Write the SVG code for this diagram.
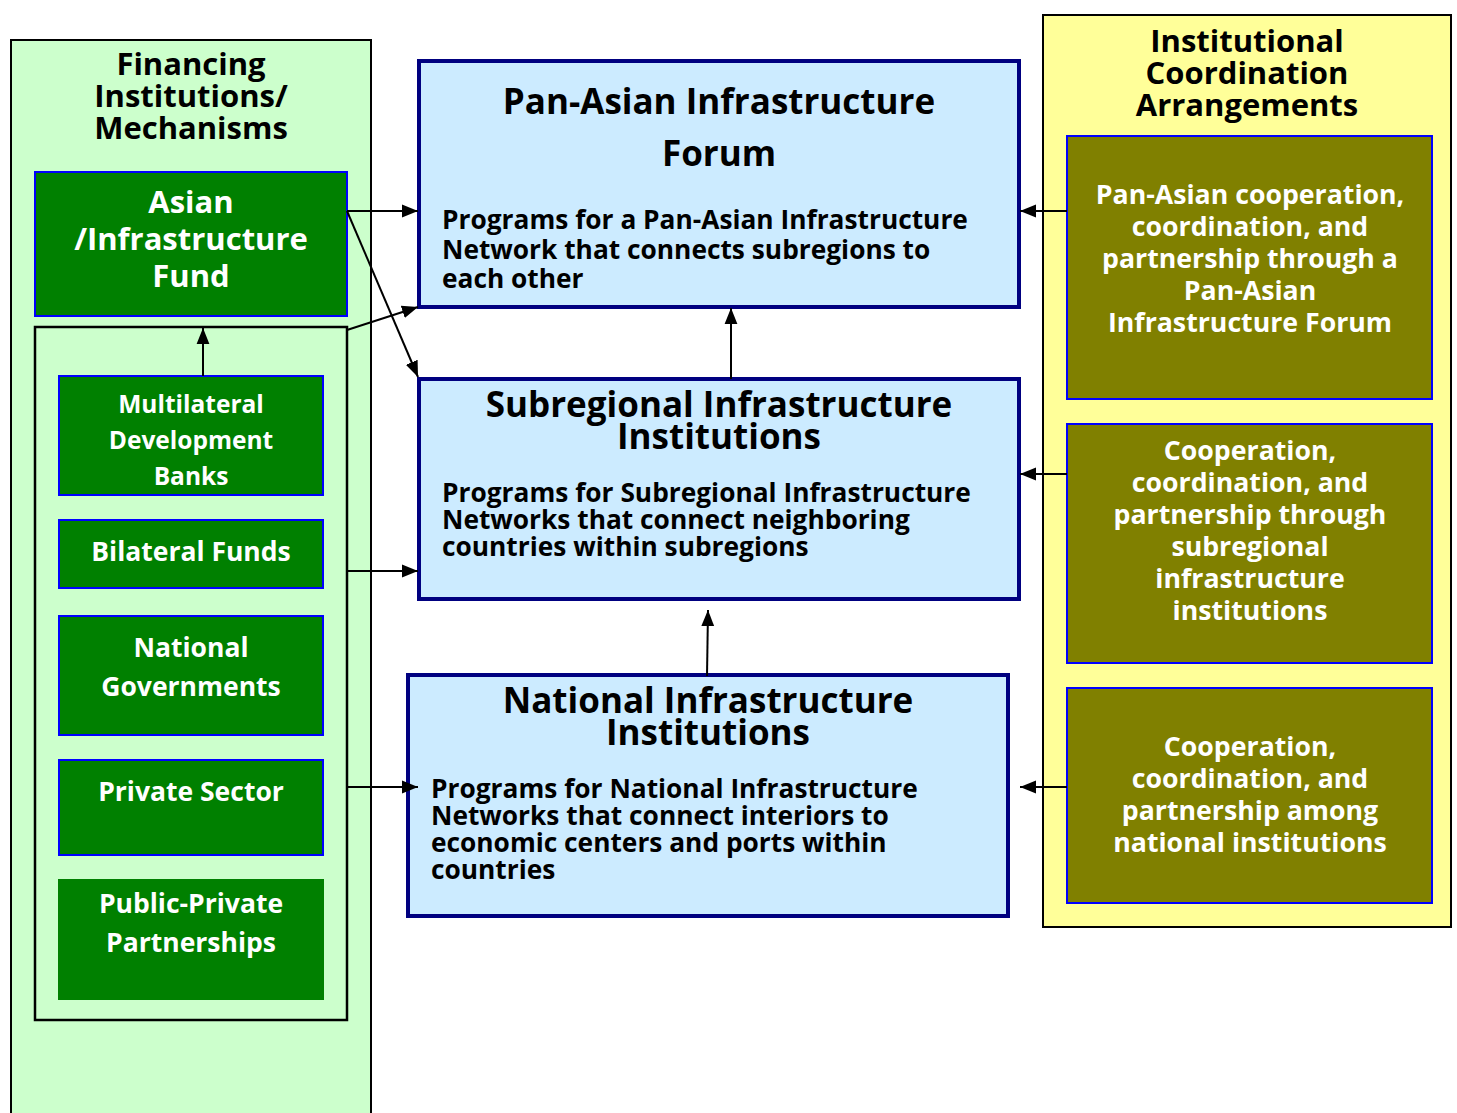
<svg xmlns="http://www.w3.org/2000/svg" width="1457" height="1113" viewBox="0 0 1457 1113">
<defs>
<marker id="ah" viewBox="0 0 10 10" refX="10" refY="5" markerWidth="8" markerHeight="8" markerUnits="strokeWidth" orient="auto">
<path d="M0,1 L10,5 L0,9 z" fill="#000"/>
</marker>
<style>
text{font-family:"Open Sans","Noto Sans","DejaVu Sans",sans-serif;font-weight:bold}
.ttl{font-size:31px;fill:#000;text-anchor:middle}
.g{fill:#008000;stroke:#0000FF;stroke-width:2}
.gt{font-size:26.5px;fill:#fff;text-anchor:middle}
.gm{font-size:24.5px;fill:#fff;text-anchor:middle}
.gb{font-size:31px;fill:#fff;text-anchor:middle}
.b{fill:#CCEBFF;stroke:#000080;stroke-width:4}
.bt{font-size:35px;fill:#000;text-anchor:middle}
.bb{font-size:26.3px;fill:#000}
.o{fill:#808000;stroke:#0000FF;stroke-width:2}
.ot{font-size:26.7px;fill:#fff;text-anchor:middle}
.c{stroke:#000;stroke-width:2;fill:none;marker-end:url(#ah)}
</style>
</defs>
<rect width="1457" height="1113" fill="#fff"/>

<g id="financing-panel">
<rect x="11" y="40" width="360" height="1080" fill="#CCFFCC" stroke="#000" stroke-width="2"/>
<text class="ttl"><tspan x="191" y="75">Financing</tspan><tspan x="191" y="107">Institutions/</tspan><tspan x="191" y="139">Mechanisms</tspan></text>
</g>

<g id="asian-infrastructure-fund">
<rect class="g" x="35" y="172" width="312" height="144"/>
<text class="gb"><tspan x="191" y="213">Asian</tspan><tspan x="191" y="250">/Infrastructure</tspan><tspan x="191" y="287">Fund</tspan></text>
</g>

<g id="sources-group">
<rect x="35" y="327" width="312" height="693" fill="#CCFFCC" stroke="#000" stroke-width="2.5"/>
</g>

<g id="multilateral-development-banks">
<rect class="g" x="59" y="376" width="264" height="119"/>
<text class="gm"><tspan x="191" y="413">Multilateral</tspan><tspan x="191" y="449">Development</tspan><tspan x="191" y="485">Banks</tspan></text>
</g>

<g id="bilateral-funds">
<rect class="g" x="59" y="520" width="264" height="68"/>
<text class="gt"><tspan x="191" y="561">Bilateral Funds</tspan></text>
</g>

<g id="national-governments">
<rect class="g" x="59" y="616" width="264" height="119"/>
<text class="gt"><tspan x="191" y="657">National</tspan><tspan x="191" y="696">Governments</tspan></text>
</g>

<g id="private-sector">
<rect class="g" x="59" y="760" width="264" height="95"/>
<text class="gt"><tspan x="191" y="801">Private Sector</tspan></text>
</g>

<g id="public-private-partnerships">
<rect x="58" y="879" width="266" height="121" fill="#008000"/>
<text class="gt"><tspan x="191" y="913">Public-Private</tspan><tspan x="191" y="952">Partnerships</tspan></text>
</g>

<g id="pan-asian-forum">
<rect class="b" x="419" y="61" width="600" height="246"/>
<text class="bt"><tspan x="719" y="114">Pan-Asian Infrastructure</tspan><tspan x="719" y="166">Forum</tspan></text>
<text class="bb"><tspan x="442" y="229">Programs for a Pan-Asian Infrastructure</tspan><tspan x="442" y="259">Network that connects subregions to</tspan><tspan x="442" y="288">each other</tspan></text>
</g>

<g id="subregional-institutions">
<rect class="b" x="419" y="379" width="600" height="220"/>
<text class="bt"><tspan x="719" y="417">Subregional Infrastructure</tspan><tspan x="719" y="449">Institutions</tspan></text>
<text class="bb"><tspan x="442" y="502">Programs for Subregional Infrastructure</tspan><tspan x="442" y="529">Networks that connect neighboring</tspan><tspan x="442" y="556">countries within subregions</tspan></text>
</g>

<g id="national-institutions">
<rect class="b" x="408" y="675" width="600" height="241"/>
<text class="bt"><tspan x="708" y="713">National Infrastructure</tspan><tspan x="708" y="745">Institutions</tspan></text>
<text class="bb"><tspan x="431" y="798">Programs for National Infrastructure</tspan><tspan x="431" y="825">Networks that connect interiors to</tspan><tspan x="431" y="852">economic centers and ports within</tspan><tspan x="431" y="879">countries</tspan></text>
</g>

<g id="coordination-panel">
<rect x="1043" y="15" width="408" height="912" fill="#FFFF99" stroke="#000" stroke-width="2"/>
<text class="ttl"><tspan x="1247" y="52">Institutional</tspan><tspan x="1247" y="84">Coordination</tspan><tspan x="1247" y="116">Arrangements</tspan></text>
</g>

<g id="pan-asian-cooperation">
<rect class="o" x="1067" y="136" width="365" height="263"/>
<text class="ot"><tspan x="1250" y="204">Pan-Asian cooperation,</tspan><tspan x="1250" y="236">coordination, and</tspan><tspan x="1250" y="268">partnership through a</tspan><tspan x="1250" y="300">Pan-Asian</tspan><tspan x="1250" y="332">Infrastructure Forum</tspan></text>
</g>

<g id="subregional-cooperation">
<rect class="o" x="1067" y="424" width="365" height="239"/>
<text class="ot"><tspan x="1250" y="460">Cooperation,</tspan><tspan x="1250" y="492">coordination, and</tspan><tspan x="1250" y="524">partnership through</tspan><tspan x="1250" y="556">subregional</tspan><tspan x="1250" y="588">infrastructure</tspan><tspan x="1250" y="620">institutions</tspan></text>
</g>

<g id="national-cooperation">
<rect class="o" x="1067" y="688" width="365" height="215"/>
<text class="ot"><tspan x="1250" y="756">Cooperation,</tspan><tspan x="1250" y="788">coordination, and</tspan><tspan x="1250" y="820">partnership among</tspan><tspan x="1250" y="852">national institutions</tspan></text>
</g>

<g id="connectors">
<line class="c" x1="203" y1="376" x2="203" y2="328"/>
<line class="c" x1="347" y1="211" x2="418" y2="211"/>
<line class="c" x1="347" y1="211" x2="418" y2="377"/>
<line class="c" x1="347" y1="330" x2="418" y2="307"/>
<line class="c" x1="347" y1="571" x2="418" y2="571"/>
<line class="c" x1="347" y1="787" x2="418" y2="787"/>
<line class="c" x1="731" y1="379" x2="731" y2="308"/>
<line class="c" x1="707" y1="676" x2="708" y2="610"/>
<line class="c" x1="1067" y1="211" x2="1020" y2="211"/>
<line class="c" x1="1067" y1="474" x2="1020" y2="474"/>
<line class="c" x1="1067" y1="787" x2="1020" y2="787"/>
</g>
</svg>
